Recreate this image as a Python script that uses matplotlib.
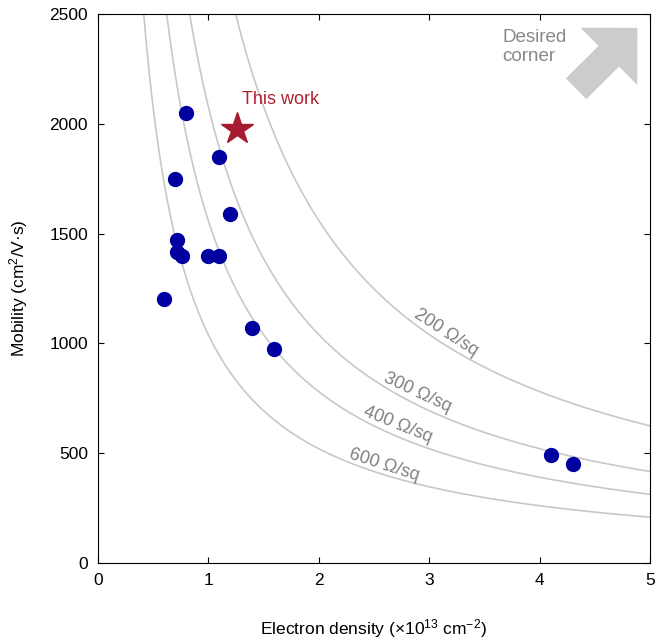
import numpy as np
import matplotlib
matplotlib.use('Agg')
import matplotlib.pyplot as plt

plt.rcParams['font.family'] = ['Liberation Sans', 'DejaVu Sans']
plt.rcParams['mathtext.fontset'] = 'custom'
plt.rcParams['mathtext.rm'] = 'Liberation Sans'
plt.rcParams['mathtext.it'] = 'Liberation Sans:italic'

# reported devices: electron density (1e13 cm^-2) and mobility (cm^2/V.s)
density = [0.8, 1.1, 0.7, 1.2, 0.72, 0.72, 0.76, 1.0, 1.1, 0.6, 1.4, 1.6, 4.1, 4.3]
mobility = [2050, 1850, 1750, 1590, 1470, 1415, 1400, 1400, 1400, 1200, 1070, 975, 490, 450]

# this work
this_n = 1.26
this_mu = 1975

# constant sheet resistance contours (ohm/sq) and label spots
sheet_res = [200, 300, 400, 600]
label_xy = [(3.15, 1047), (2.89, 774), (2.72, 628), (2.59, 446)]
label_rot = [-33, -25, -22, -18]

q = 1.602e-19

fig = plt.figure(figsize=(6.56, 6.44), dpi=100)
ax = fig.add_axes([0.149, 0.126, 0.842, 0.852])

for R, (lx, ly), rot in zip(sheet_res, label_xy, label_rot):
    n = np.linspace(0.3, 5, 400)
    mu = 1.0 / (q * n * 1e13 * R)
    ax.plot(n, mu, color='#c8c8c8', lw=1.2, zorder=1)
    ax.text(lx, ly, f'{R} Ω/sq', color='#808080', fontsize=13,
            rotation=rot, ha='center', va='center', zorder=2)

ax.plot(density, mobility, 'o', color='#0000a0', markersize=10, zorder=3)
ax.plot(this_n, this_mu, '*', color='#a51c30', markersize=24, zorder=4)
ax.text(1.31, 2072, 'This work', color='#b22030', fontsize=13, ha='left', va='bottom')

# desired corner arrow
ax.annotate('', xy=(0.977, 0.975), xytext=(0.866, 0.864), xycoords='axes fraction',
            arrowprops=dict(arrowstyle='simple,head_width=58,head_length=29,tail_width=21',
                            mutation_scale=1, color='#cccccc', lw=0, shrinkA=0, shrinkB=0))
ax.text(0.733, 0.94, 'Desired\ncorner', transform=ax.transAxes, color='#888888',
        fontsize=13.5, ha='left', va='center', linespacing=1.2)

ax.set_xlim(0, 5)
ax.set_ylim(0, 2500)
ax.set_xticks([0, 1, 2, 3, 4, 5])
ax.set_yticks([0, 500, 1000, 1500, 2000, 2500])
ax.tick_params(direction='in', length=4, labelsize=12.5, top=True, right=True, pad=7)
ax.set_xlabel(r'Electron density (×10$^{\mathregular{13}}$ cm$^{\mathregular{-2}}$)',
              fontsize=12.5, labelpad=21)
ax.set_ylabel(r'Mobility (cm$^{\mathregular{2}}$/V·s)', fontsize=12.5, labelpad=14)

fig.savefig('out.png', dpi=100)
